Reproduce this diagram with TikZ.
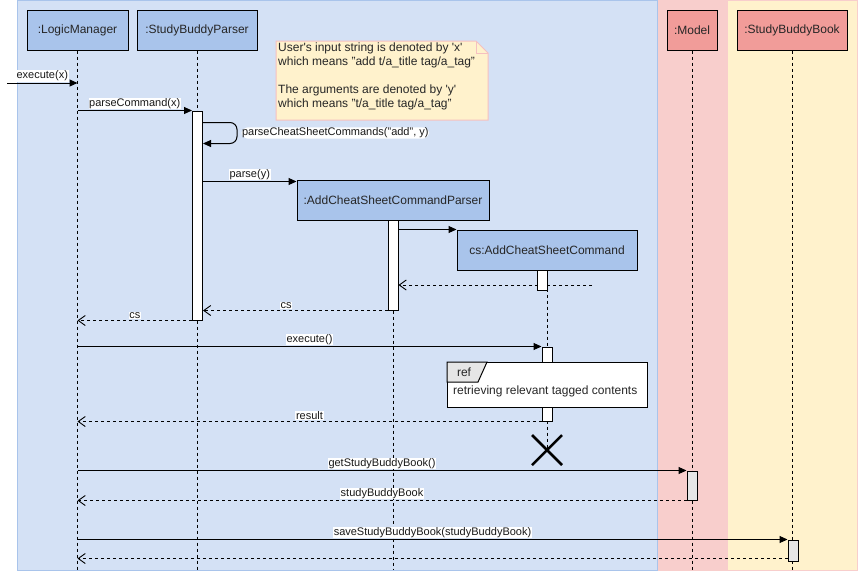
\documentclass[tikz,border=0pt]{standalone}
\usepackage{fontspec}
\setmainfont{Liberation Sans}
\usetikzlibrary{arrows.meta,calc}
\definecolor{bgblue}{HTML}{D4E1F5}
\definecolor{bgblueb}{HTML}{A9C4EB}
\definecolor{bgpink}{HTML}{F8CECC}
\definecolor{bgyellow}{HTML}{FFF2CC}
\definecolor{hdrblue}{HTML}{A9C4EB}
\definecolor{hdrpink}{HTML}{F19C99}
\definecolor{notefill}{HTML}{FFF2CC}
\definecolor{noteline}{HTML}{F5C0C0}
\definecolor{actgray}{HTML}{E6E6E6}
\begin{document}
\begin{tikzpicture}[x=1pt,y=-1pt,
 hdr/.style={draw=black, line width=1pt, minimum height=40pt, inner sep=0pt, font=\fontsize{12}{14}\selectfont, text=black!85},
 act/.style={draw=black, line width=1pt, fill=white, minimum width=10pt, inner sep=0pt},
 life/.style={line width=0.8pt, dash pattern=on 3pt off 3pt},
 msg/.style={line width=1pt, -{Triangle[length=8pt,width=7pt]}},
 ret/.style={line width=0.9pt, dash pattern=on 3pt off 3pt, -{Straight Barb[length=7pt,width=10pt]}},
 lbl/.style={fill=white, inner sep=0.6pt, font=\fontsize{11}{13}\selectfont, text=black!90},
 txt/.style={inner sep=0pt, font=\fontsize{12}{14}\selectfont, text=black!85},
]
\useasboundingbox (0,0) rectangle (858,571);
% swimlane backgrounds
\fill[bgpink] (657,0) rectangle (858,571);
\fill[bgyellow] (728,1) rectangle (857,570);
\filldraw[fill=bgblue, draw=bgblueb, line width=1pt] (17,0.5) rectangle (657,570);

% note
\filldraw[fill=notefill, draw=noteline, line width=1pt] (276,41) -- (476,41) -- (488,53) -- (488,120) -- (276,120) -- cycle;
\draw[draw=noteline, line width=1pt] (476,41) -- (476,53) -- (488,53);
\node[txt, anchor=north west, align=left] (note) at (278,43) {User\textquotesingle s input string is denoted by \textquotesingle x\textquotesingle\\which means "add t/a\_title tag/a\_tag"\\[14pt]The arguments are denoted by \textquotesingle y\textquotesingle\\which means "t/a\_title tag/a\_tag"};

% headers
\node[hdr, fill=hdrblue, minimum width=101pt] (lm) at (77.5,30) {:LogicManager};
\node[hdr, fill=hdrblue, minimum width=120pt] (sbp) at (197,30) {:StudyBuddyParser};
\node[hdr, fill=hdrpink, minimum width=50pt] (mdl) at (692,30) {:Model};
\node[hdr, fill=hdrpink, minimum width=110pt] (sbb) at (792,30) {:StudyBuddyBook};

\coordinate (bot) at (0,570);
\coordinate (xx) at (547,450);

% lifelines
\draw[life] (lm.south) -- (lm.south |- bot);
\draw[life] (sbp.south) -- (sbp.south |- bot);
\draw[life] (mdl.south) -- (mdl.south |- bot);
\draw[life] (sbb.south) -- (sbb.south |- bot);

\node[hdr, fill=hdrblue, minimum width=192pt] (acp) at (393,200) {:AddCheatSheetCommandParser};
\draw[life] (acp.south) -- (acp.south |- bot);
\node[hdr, fill=hdrblue, minimum width=180pt] (cs) at (547,250) {cs:AddCheatSheetCommand};
\draw[life] (cs.south) -- (xx);

% activations
\node[act, minimum height=209pt] (a1) at (197.5,215.5) {};
\node[act, minimum height=90pt] (a2) at (393,265) {};
\coordinate (r0) at (592,285);
\draw[ret] (r0) -- (r0 -| a2.east);
\node[act, minimum height=20pt] (a3) at (542,280) {};
\node[act, minimum height=74pt] (a4) at (547,384) {};
\node[act, fill=actgray, minimum height=29pt] (a5) at (692,485.5) {};
\node[act, fill=actgray, minimum height=21pt] (a6) at (793,550.5) {};

% messages
\coordinate (ex0) at (7,83);
\draw[msg] (ex0) -- (ex0 -| lm.south) node[lbl, midway, above=1pt] {execute(x)};
\draw[msg] (lm.south |- a1.north) -- (a1.north west) node[lbl, midway, above=1pt] {parseCommand(x)};
\draw[msg, rounded corners=7pt] ($(a1.north east)+(0,12)$) -- ++(34,0) -- ++(0,21) node[lbl, midway, right=4pt] {parseCheatSheetCommands("add", y)} -- ++(-34,0);
\draw[msg] ($(a1.east |- acp.north)+(0,2)$) -- ($(acp.north west)+(0,2)$) node[lbl, midway, above=1pt] {parse(y)};
\draw[msg] (a2.north east |- cs.north) -- (cs.north west);
\draw[ret] (a2.south west) -- (a2.south west -| a1.east) node[lbl, pos=0.55, above=1pt] {cs};
\draw[ret] (a1.south west) -- (a1.south west -| lm.south) node[lbl, midway, above=1pt] {cs};
\draw[msg] (lm.south |- a4.north) -- (a4.north west) node[lbl, midway, above=1pt] {execute()};

% ref frame
\node[draw=black, fill=white, line width=1pt, minimum width=200pt, minimum height=45pt, anchor=north west, inner sep=0pt] (ref) at (447,362) {};
\filldraw[fill=actgray, draw=black, line width=1pt] (ref.north west) -- ++(40,0) -- ++(-9,20) -- ++(-31,0) -- cycle;
\node[txt] (reftag) at ($(ref.north west)+(17,10)$) {ref};
\node[txt, anchor=west] (reftxt) at ($(ref.north west)+(6,29)$) {retrieving relevant tagged contents};

\draw[ret] (a4.south west) -- (a4.south west -| lm.south) node[lbl, midway, above=1pt] {result};

% destruction
\draw[line width=2.5pt] ($(xx)+(-15,-15)$) -- ($(xx)+(15,15)$);
\draw[line width=2.5pt] ($(xx)+(-15,15)$) -- ($(xx)+(15,-15)$);

\draw[msg] (lm.south |- a5.north) -- (a5.north west) node[lbl, midway, above=1pt] {getStudyBuddyBook()};
\draw[ret] (a5.south west) -- (a5.south west -| lm.south) node[lbl, midway, above=1pt] {studyBuddyBook};
\draw[msg] (lm.south |- a6.north) -- (a6.north west) node[lbl, midway, above=1pt] {saveStudyBuddyBook(studyBuddyBook)};
\draw[ret] ($(a6.south west)+(0,-3)$) -- ($(a6.south west -| lm.south)+(0,-3)$);
\end{tikzpicture}
\end{document}
